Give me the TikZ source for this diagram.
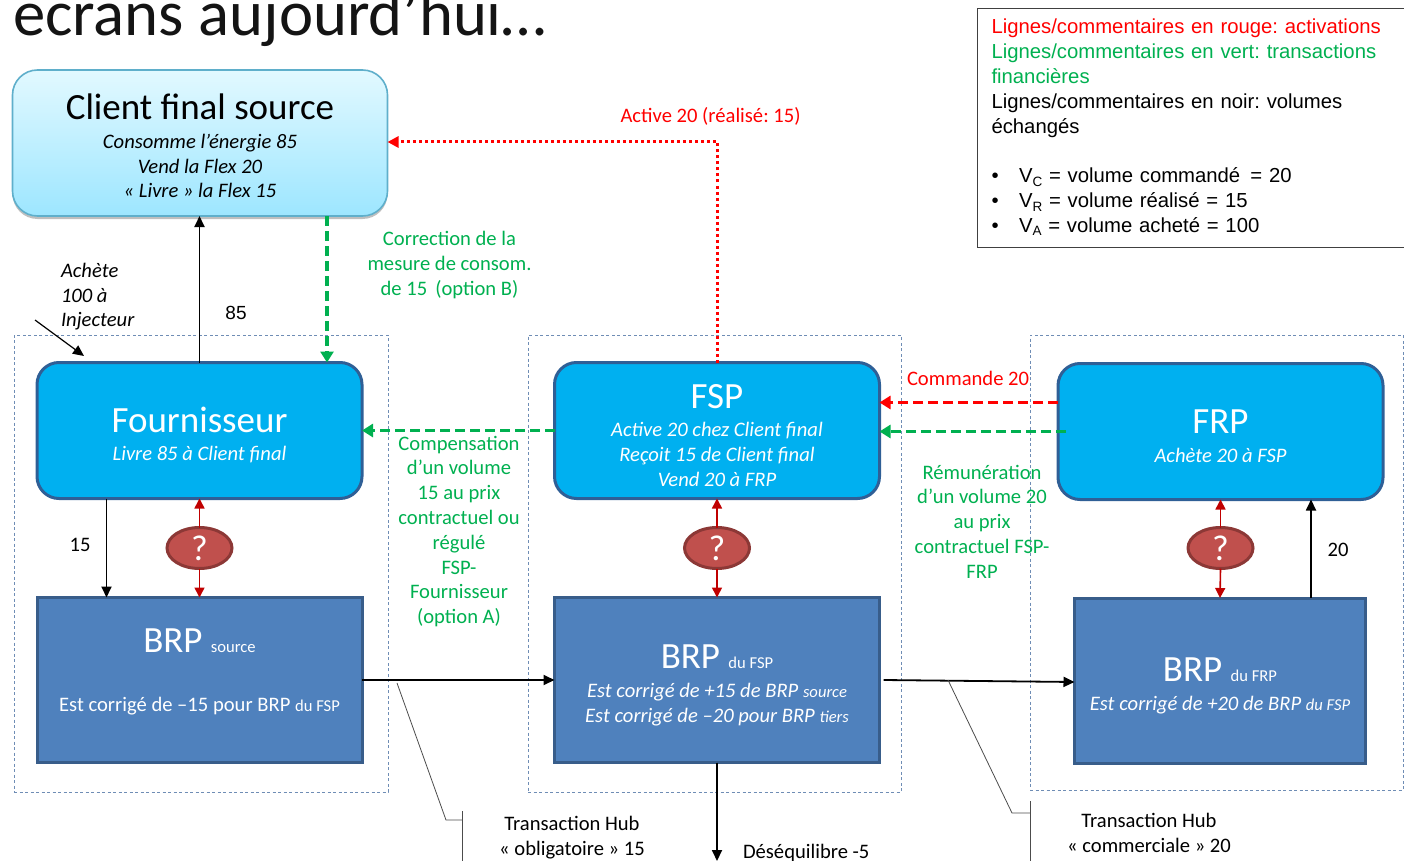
\documentclass[tikz,border=0pt]{standalone}
\usepackage{fontspec}
\setmainfont{Carlito}
\newfontfamily\arialf{Liberation Sans}
\usetikzlibrary{arrows.meta,shapes.geometric,shadows,calc}
\definecolor{gr}{HTML}{00B050}
\definecolor{rd}{HTML}{FF0000}
\definecolor{dk}{HTML}{C00000}
\definecolor{actborder}{HTML}{2F5F96}
\definecolor{actfill}{HTML}{00B0F0}
\definecolor{brpborder}{HTML}{385D8A}
\definecolor{brpfill}{HTML}{4F81BD}
\definecolor{zonec}{HTML}{6F8DB5}
\definecolor{qborder}{HTML}{8C3836}
\definecolor{qfill}{HTML}{C0504D}
\definecolor{cltop}{HTML}{E2F9FF}
\definecolor{clbot}{HTML}{9DE6FF}
\definecolor{clborder}{HTML}{5FAFCB}
\newcommand{\fs}[2]{\fontsize{#1}{#2}\selectfont}
\newcommand{\sm}[1]{{\fs{16.6}{16.6}#1}}
\newcommand{\ttl}[1]{{\fs{37}{40}#1}}
\newcommand{\vsub}[1]{\raisebox{-3.5pt}{\fs{13.5}{13.5}#1}}
\tikzset{
  x=1pt,y=-1pt,
  base/.style={outer sep=0pt,inner sep=0pt,align=center},
  body/.style={base,font=\fs{20.6}{24.8}},
  client/.style={body,rounded corners=25pt,draw=clborder,line width=1.6pt,top color=cltop,bottom color=clbot,minimum width=375pt,minimum height=146pt,text=black,drop shadow={shadow xshift=0pt,shadow yshift=-3pt,opacity=.25,fill=black}},
  actor/.style={body,rounded corners=22pt,draw=actborder,line width=3pt,fill=actfill,text=white,minimum width=325pt,minimum height=136pt},
  brp/.style={body,draw=brpborder,line width=3pt,fill=brpfill,text=white,minimum width=325pt,minimum height=165pt},
  zone/.style={base,draw=zonec,line width=.8pt,dash pattern=on 3pt off 2.5pt},
  ques/.style={base,ellipse,draw=qborder,line width=3pt,fill=qfill,text=white,minimum width=65pt,minimum height=41pt,font=\fs{36}{36}},
  grt/.style={body,text=gr},
  blk/.style={-{Triangle[length=11pt,width=10pt]},line width=1.8pt,black},
  grn/.style={-{Triangle[length=11pt,width=13pt]},line width=3.2pt,gr,dash pattern=on 10pt off 5pt},
  redd/.style={-{Triangle[length=11pt,width=13pt]},line width=3.2pt,rd,dash pattern=on 10pt off 5pt},
  redo/.style={-{Triangle[length=11pt,width=11pt]},line width=3pt,rd,dash pattern=on 3pt off 3pt},
  dkr/.style={-{Triangle[length=10pt,width=10pt]},line width=1.6pt,dk},
  callout/.style={line width=.8pt,draw=black!70},
}
\begin{document}
\frenchspacing
\begin{tikzpicture}
\clip (0,0) rectangle (1404,861);
\useasboundingbox (0,0) rectangle (1404,861);
% zones
\node[zone,minimum width=374pt,minimum height=457pt,anchor=north west] (z1) at (14,335) {};
\node[zone,minimum width=373pt,minimum height=457pt,anchor=north west] (z2) at (528,335) {};
\node[zone,minimum width=373pt,minimum height=455pt,anchor=north west] (z3) at (1030,335) {};
% title
\node[base,anchor=base west,font=\fs{64.7}{70},text=black!92] (title) at (13,36) {écrans aujourd’hui…};
% main boxes
\node[client] (client) at (200,143) {\mbox{}\\[5pt]\ttl{Client final source}\\[4pt]\itshape Consomme l’énergie 85\\\itshape Vend la Flex 20\\\itshape « Livre » la Flex 15};
\node[actor] (fou) at (199.5,430.5) {\mbox{}\\[8pt]\ttl{Fournisseur}\\[4pt]\itshape Livre 85 à Client final};
\node[actor] (fsp) at (717,430.5) {\mbox{}\\[9pt]\ttl{FSP}\\[4pt]\itshape Active 20 chez Client final\\\itshape Reçoit 15 de Client final\\\itshape Vend 20 à FRP};
\node[actor] (frp) at (1220.5,431.5) {\mbox{}\\[8pt]\ttl{FRP}\\[4pt]\itshape Achète 20 à FSP};
\node[brp] (brps) at (199.5,680) {\ttl{BRP \sm{source}}\\[34pt]Est corrigé de –15 pour BRP \sm{du FSP}\\[-5pt]\mbox{}};
\node[brp] (brpf) at (717,680) {\mbox{}\\[10pt]\ttl{BRP \sm{du FSP}}\\[4pt]\itshape Est corrigé de +15 de BRP \sm{source}\\\itshape Est corrigé de –20 pour BRP \sm{tiers}};
\node[brp,minimum width=291pt] (brpr) at (1220,680.5) {\mbox{}\\[10pt]\ttl{BRP \sm{du FRP}}\\[4pt]\itshape Est corrigé de +20 de BRP \sm{du FSP}};
% question marks
\node[ques] (q1) at (199.5,548) {?};
\node[ques] (q2) at (717,548) {?};
\node[ques] (q3) at (1220.5,548) {?};
% legend
\node[base,draw=black!75,line width=.9pt,anchor=north west,minimum width=433pt,minimum height=239pt,text width=404pt,align=left,font=\arialf\fs{20.3}{24.8}] (leg) at (977,8) {\textcolor{rd}{Lignes/commentaires en rouge: activations}\\
\textcolor{gr}{Lignes/commentaires en vert: transactions}\\
\textcolor{gr}{financières}\\
Lignes/commentaires en noir: volumes\\
échangés\\
\mbox{}\\
\makebox[27.5pt][l]{•}V\vsub{C} = volume commandé \,= 20\\
\makebox[27.5pt][l]{•}V\vsub{R} = volume réalisé = 15\\
\makebox[27.5pt][l]{•}V\vsub{A} = volume acheté = 100};
% connectors
\draw[blk] (fou.north) -- (fou.north |- client.south);
\coordinate (gc) at ($(client.south)+(127,0)$);
\draw[grn] (gc) -- (gc |- fou.north);
\draw[redo] (fsp.north) -- (fsp.north |- 0,142) -- (client.east |- 0,142);
\coordinate (rf) at ($(frp.west)+(0,-29)$);
\draw[redd] (rf) -- (fsp.east |- rf);
\coordinate (gf) at ($(frp.west)+(8,0)$);
\draw[grn] (gf) -- (fsp.east |- gf);
\draw[grn] (fsp.west) -- (fou.east |- fsp.west);
\draw[blk] ($(fou.south)+(-93,0)$) -- ($(brps.north)+(-93,0)$);
\draw[blk] (brps.east) -- (brpf.west);
\coordinate (bfs) at ($(brpf.east)+(4,0)$);
\draw[blk] (bfs) -- ($(brpr.west)+(0,1.5)$);
\draw[blk] ($(brpr.north)+(91,0)$) -- ($(frp.south)+(90.5,0)$);
\coordinate (dese) at (717,861);
\draw[blk] (brpf.south) -- (dese);
\draw[dkr] (q1.north) -- (fou.south);
\draw[dkr] (q1.south) -- (brps.north);
\draw[dkr] (q2.north) -- (fsp.south);
\draw[dkr] (q2.south) -- (brpf.north);
\draw[dkr] (q3.north) -- (frp.south);
\draw[dkr] (q3.south) -- (brpr.north);
\coordinate (ach0) at (35,320);
\coordinate (ach1) at (84,356);
\draw[blk,line width=1.2pt] (ach0) -- (ach1);
% callouts
\coordinate (c1a) at (397,683);
\coordinate (c1b) at (446,820);
\coordinate (c1c) at (462,820);
\coordinate (c1d) at (462,811);
\coordinate (c1e) at (462,861);
\draw[callout] (c1a) -- (c1b) -- (c1c);
\draw[callout] (c1d) -- (c1e);
\coordinate (c2a) at (948,680);
\coordinate (c2b) at (1012,813);
\coordinate (c2c) at (1030,813);
\coordinate (c2d) at (1030,801);
\coordinate (c2e) at (1030,861);
\draw[callout] (c2a) -- (c2b) -- (c2c);
\draw[callout] (c2d) -- (c2e);
% labels
\node[grt] (l1) at (449.5,265) {Correction de la\\mesure de consom.\\de 15 \,(option B)};
\node[grt] (l2) at (459,531.5) {Compensation\\d’un volume\\15 au prix\\contractuel ou\\régulé\\FSP-\\Fournisseur\\(option A)};
\node[grt] (l3) at (982,521.5) {Rémunération\\d’un volume 20\\au prix\\contractuel FSP-\\FRP};
\node[body,text=rd] (l4) at (710.5,116.5) {Active 20 (réalisé: 15)};
\node[body,text=rd,anchor=west] (l5) at (907,378) {Commande 20};
\node[body,align=left,anchor=north west,font=\itshape\fs{20.6}{24.8}] (l6) at (61,263) {Achète\\100 à\\Injecteur};
\node[body,font=\arialf\fs{19}{24}] (l7) at (236,313) {85};
\node[body] (l8) at (80,545) {15};
\node[body] (l9) at (1338,550) {20};
\node[body] (l10) at (572,838) {Transaction Hub\\« obligatoire » 15};
\node[body,anchor=west] (l11) at (743,852.5) {Déséquilibre -5};
\node[body] (l12) at (1149,833) {Transaction Hub\\« commerciale » 20};
\end{tikzpicture}
\end{document}
